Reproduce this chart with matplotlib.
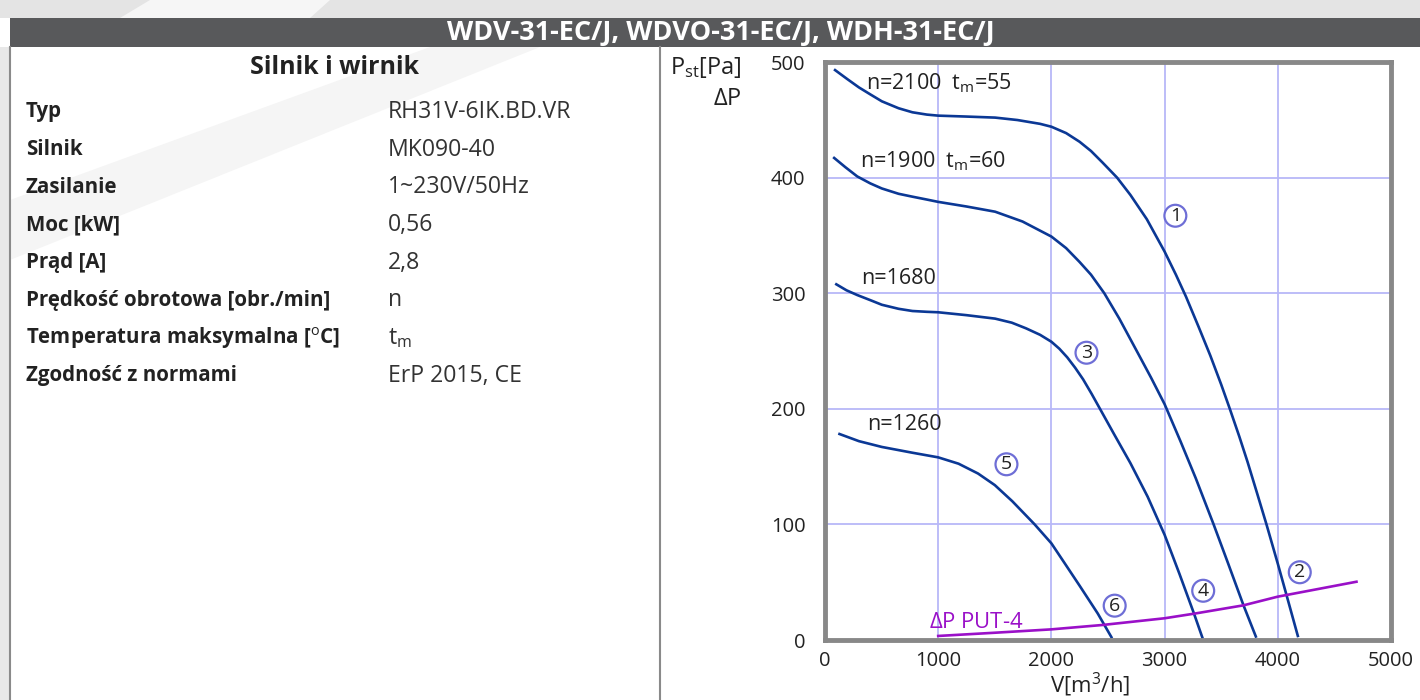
import matplotlib
matplotlib.use("Agg")
import matplotlib.pyplot as plt
from matplotlib.patches import Rectangle, Polygon
from matplotlib.lines import Line2D

plt.rcParams['font.family'] = ['Open Sans', 'DejaVu Sans']
plt.rcParams['mathtext.fontset'] = 'custom'
plt.rcParams['mathtext.rm'] = 'Open Sans'
plt.rcParams['mathtext.it'] = 'Open Sans'

# --- data --------------------------------------------------------------------
title = 'WDV-31-EC/J, WDVO-31-EC/J, WDH-31-EC/J'
section = 'Silnik i wirnik'
spec_names = ['Typ', 'Silnik', 'Zasilanie', 'Moc [kW]', 'Prąd [A]',
              'Prędkość obrotowa [obr./min]', 'Temperatura maksymalna [$^{\\rm o}$C]',
              'Zgodność z normami']
spec_values = ['RH31V-6IK.BD.VR', 'MK090-40', '1~230V/50Hz', '0,56', '2,8',
               'n', 't$_{\\rm m}$', 'ErP 2015, CE']

# n=2100
q1 = [89, 200, 300, 400, 502, 650, 772, 900, 1000, 1250, 1503, 1700, 1900, 2000, 2130, 2249, 2350, 2452,
      2580, 2698, 2843, 3000, 3100, 3189, 3300, 3404, 3500, 3576, 3660, 3733, 3820, 3900, 4000, 4088, 4177]
p1 = [493, 485, 478, 472, 466, 460, 456.5, 454.5, 453.6, 452.8, 451.9, 449.8, 446.5, 444, 438.5, 431, 423, 413,
      400, 385, 364, 336, 316, 297, 271, 246, 221, 200, 176, 154, 126, 100, 66, 35, 3.5]
# n=1900
q2 = [81, 180, 285, 400, 502, 650, 772, 900, 1000, 1250, 1503, 1745, 2000, 2130, 2249, 2350, 2467,
      2600, 2765, 2880, 3000, 3140, 3275, 3433, 3562, 3697, 3806]
p2 = [417, 409, 401, 395, 390.6, 386, 383.5, 381, 379, 375, 370.5, 362, 349, 339, 327, 316, 300,
      278, 248, 227, 204, 172, 140, 100, 66, 30, 3]
# n=1680
q3 = [100, 190, 285, 400, 502, 650, 772, 900, 1000, 1250, 1503, 1650, 1776, 1900, 2000, 2070, 2140, 2210,
      2280, 2355, 2429, 2554, 2698, 2850, 3000, 3070, 3132, 3261, 3333]
p3 = [307.7, 302.5, 298.4, 294, 290, 286.5, 284.6, 283.9, 283.5, 281, 278, 274.5, 269.6, 264, 258, 252, 244.5, 235.5,
      225.5, 213, 200, 178, 153, 124, 91, 73, 57, 22.5, 2.3]
# n=1260
q4 = [128, 300, 502, 772, 1000, 1180, 1352, 1500, 1655, 1852, 2000, 2120, 2249, 2409, 2530]
p4 = [178.2, 172, 167, 162, 158, 152.5, 144, 134, 120, 100, 83.6, 66, 47, 23, 2.5]
# dP PUT-4
q_put = [1000, 1503, 2000, 2452, 3000, 3275, 3697, 4000, 4695]
p_put = [3.5, 6.3, 9.2, 13, 18.8, 23, 30, 37.5, 50.4]

curve_labels = ['n=2100  t$_{\\rm m}$=55', 'n=1900  t$_{\\rm m}$=60', 'n=1680', 'n=1260']
curve_label_pos = [(366, 482), (306, 414), (320, 313), (372, 186)]
marker_text = ['1', '2', '3', '4', '5', '6']
marker_pos = [(3095, 367), (4194, 58.6), (2310, 248.5), (3341, 42.6), (1603, 152), (2559, 29.7)]

x_ticks = [0, 1000, 2000, 3000, 4000, 5000]
y_ticks = [0, 100, 200, 300, 400, 500]

# --- figure ------------------------------------------------------------------
W, H = 1420, 700
fig = plt.figure(figsize=(W / 100, H / 100), dpi=100)
fig.patch.set_facecolor('white')


def fx(x):
    return x / W


def fy(y):
    return 1 - y / H


tf = fig.transFigure

# page background above the header and at the left edge
fig.patches.append(Rectangle((0, fy(18)), 1, 18 / H, transform=tf, fc='#e4e4e4', ec='none', zorder=0))
fig.patches.append(Polygon([(fx(150), 1), (fx(330), 1), (fx(310), fy(18)), (fx(120), fy(18))],
                           closed=True, transform=tf, fc='#f6f6f6', ec='none', zorder=0))
fig.patches.append(Rectangle((0, 0), fx(10), fy(47), transform=tf, fc='#e8e8e8', ec='none', zorder=0))
# faint diagonal streak on the panel
fig.patches.append(Polygon([(fx(10), fy(200)), (fx(10), fy(260)), (fx(540), fy(47)), (fx(430), fy(47))],
                           closed=True, transform=tf, fc='#f5f5f5', ec='none', zorder=0))

# header bar
fig.patches.append(Rectangle((fx(10), fy(47)), 1 - fx(10), 29 / H, transform=tf, fc='#58595b', ec='none', zorder=1))
fig.text(fx(721), fy(33), title, color='white', fontsize=19.5, fontweight='bold',
         ha='center', va='center')

# panel borders
fig.lines.append(Line2D([fx(10), fx(10)], [0, fy(47)], transform=tf, color='#8a8a8a', lw=1.5))
fig.lines.append(Line2D([fx(660), fx(660)], [0, fy(47)], transform=tf, color='#8a8a8a', lw=1.5))

# spec table
fig.text(fx(335), fy(68), section, fontsize=18, fontweight='bold', color='#222222',
         ha='center', va='center')
for i, (name, val) in enumerate(zip(spec_names, spec_values)):
    yy = fy(112 + i * 37.7)
    fig.text(fx(26), yy, name, fontsize=14.8, fontweight='bold', color='#222222', ha='left', va='center')
    fig.text(fx(388), yy, val, fontsize=16.6, color='#333333', ha='left', va='center')

# --- chart -------------------------------------------------------------------
ax = fig.add_axes([fx(825), fy(640), fx(1391) - fx(825), fy(62) - fy(640)])
ax.set_xlim(0, 5000)
ax.set_ylim(0, 500)
ax.set_xticks(x_ticks)
ax.set_yticks(y_ticks)
ax.grid(True, color='#b8b8f8', lw=1.3)
ax.set_axisbelow(True)
for s in ax.spines.values():
    s.set_color('#888888')
    s.set_linewidth(3.5)
ax.tick_params(length=0, labelsize=14.5, labelcolor='#222222')
ax.tick_params(axis='x', pad=8)
ax.tick_params(axis='y', pad=14)

blue = '#0b3895'
for q, p in [(q1, p1), (q2, p2), (q3, p3), (q4, p4)]:
    ax.plot(q, p, color=blue, lw=1.9, solid_joinstyle='round')
ax.plot(q_put, p_put, color='#9a10c8', lw=1.9, solid_joinstyle='round')

for txt, (x, y) in zip(curve_labels, curve_label_pos):
    ax.text(x, y, txt, fontsize=15.5, color='#222222', ha='left', va='center')
ax.text(921, 15, '$\\Delta$P PUT-4', fontsize=15.8, color='#9a10c8', ha='left', va='center')

for txt, (x, y) in zip(marker_text, marker_pos):
    ax.text(x, y, txt, fontsize=14, color='#222222', ha='center', va='center',
            bbox=dict(boxstyle='circle,pad=0.1', fc='white', ec='#6e6ed6', lw=1.6))

# axis titles
fig.text(fx(742), fy(68), 'P$_{\\rm st}$[Pa]', fontsize=17, color='#222222', ha='right', va='center')
fig.text(fx(742), fy(99), '$\\Delta$P', fontsize=17, color='#222222', ha='right', va='center')
fig.text(fx(1090), fy(699), 'V[m$^3$/h]', fontsize=16, color='#222222', ha='center', va='bottom')

fig.savefig('out.png', dpi=100)
